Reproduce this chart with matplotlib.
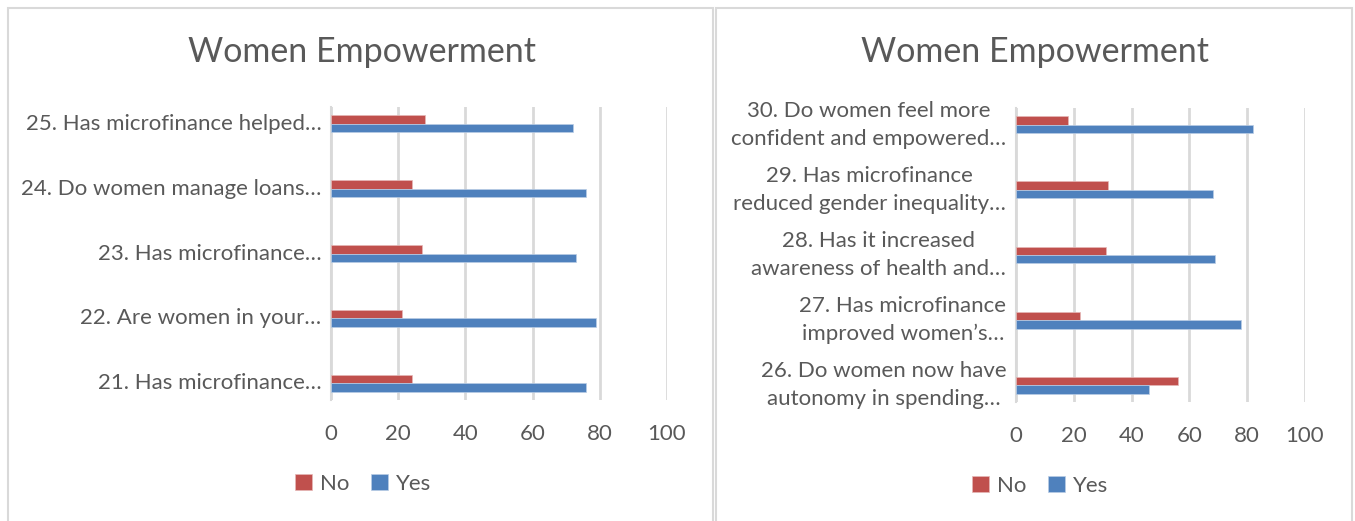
import matplotlib
matplotlib.use("Agg")
import matplotlib.pyplot as plt
from matplotlib.patches import Rectangle
import numpy as np

plt.rcParams['font.family'] = ['Lato', 'DejaVu Sans']

# ---------------- data ----------------
left_categories = [
    "25. Has microfinance helped…",
    "24. Do women manage loans…",
    "23. Has microfinance…",
    "22. Are women in your…",
    "21. Has microfinance…",
]
left_no = [28, 24, 27, 21, 24]
left_yes = [72, 76, 73, 79, 76]

right_categories = [
    "30. Do women feel more\nconfident and empowered…",
    "29. Has microfinance\nreduced gender inequality…",
    "28. Has it increased\nawareness of health and…",
    "27. Has microfinance\nimproved women’s…",
    "26. Do women now have\nautonomy in spending…",
]
right_no = [18, 32, 31, 22, 56]
right_yes = [82, 68, 69, 78, 46]

x_ticks = [0, 20, 40, 60, 80, 100]
title = "Women Empowerment"
series_names = ["No", "Yes"]

# ---------------- style ----------------
W, H = 1355, 521
RED = "#C0504D"
BLUE = "#4F81BD"
GRID = "#D9D9D9"
TXT = "#595959"
FS = 16

fig = plt.figure(figsize=(W / 100, H / 100), dpi=100)
fig.patch.set_facecolor("white")

def fx(px):
    return px / W

def fy(py):
    return 1 - py / H

# panel borders
for (x0, x1) in [(8, 713), (716, 1352)]:
    fig.patches.append(Rectangle((fx(x0), fy(530)), fx(x1 - x0), (530 - 8) / H,
                                 transform=fig.transFigure, fill=False,
                                 edgecolor=GRID, linewidth=1.5, zorder=0))


def draw(ax_px, cats, no, yes, title_x, legend_y, legend_x):
    x0, x1, ytop, ybot = ax_px
    ax = fig.add_axes([fx(x0), fy(ybot), fx(x1 - x0), (ybot - ytop) / H])
    n = len(cats)
    pos = np.arange(n)
    h = 0.13
    ax.barh(pos - h / 2, no, height=h, color=RED, edgecolor="#E6B8B7",
            linewidth=0.5, label=series_names[0], zorder=3)
    ax.barh(pos + h / 2, yes, height=h, color=BLUE, edgecolor="#B9CDE5",
            linewidth=0.5, label=series_names[1], zorder=3)
    ax.set_ylim(n - 1 + 0.254, -0.254)
    ax.set_xlim(0, 100)
    ax.set_xticks(x_ticks)
    ax.set_xticklabels([str(t) for t in x_ticks], fontsize=FS, color=TXT)
    ax.set_yticks(pos)
    ax.set_yticklabels(cats, fontsize=FS, color=TXT, linespacing=1.5,
                       multialignment="center", va="center")
    ax.tick_params(axis="both", length=0)
    ax.tick_params(axis="x", pad=17)
    ax.tick_params(axis="y", pad=7)
    for s in ["top", "right", "bottom"]:
        ax.spines[s].set_visible(False)
    ax.spines["left"].set_color(GRID)
    ax.spines["left"].set_linewidth(1.5)
    ax.xaxis.grid(True, color=GRID, linewidth=2)
    ax.set_axisbelow(True)
    fig.text(fx(title_x), fy(52), title, fontsize=24.5, color=TXT,
             ha="center", va="center")
    handles, labels = ax.get_legend_handles_labels()
    fig.legend(handles, labels, loc="center", bbox_to_anchor=(fx(legend_x), fy(legend_y)),
               ncol=2, frameon=False, fontsize=FS, labelcolor=TXT,
               handlelength=0.75, handleheight=0.75, handletextpad=0.35,
               columnspacing=1.0)
    return ax

draw((331, 667, 107, 400), left_categories, left_no, left_yes, 362, 484, 363)
draw((1016, 1305, 108, 402), right_categories, right_no, right_yes, 1035, 486, 1040)

fig.savefig("out.png", dpi=100)
